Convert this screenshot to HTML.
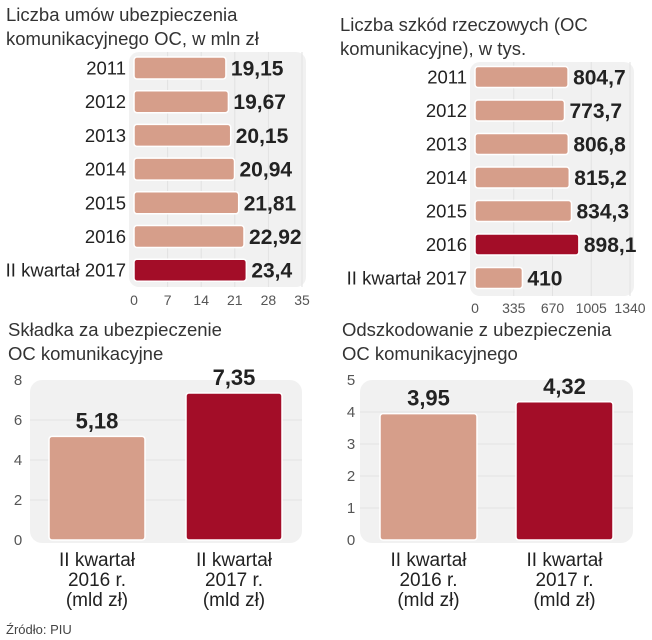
<!DOCTYPE html>
<html><head><meta charset="utf-8"><style>
html,body{margin:0;padding:0;background:#fff;}
svg{display:block;font-family:"Liberation Sans",sans-serif;}
.t{font-size:18.5px;fill:#333;}
.cat{font-size:18.5px;fill:#222;}
.tick{font-size:14px;fill:#555;}
.val{font-family:"Liberation Sans Narrow","Liberation Sans",sans-serif;font-weight:bold;font-size:21px;fill:#222;}
</style></head><body>
<svg id="s" width="652" height="640" viewBox="0 0 652 640">
<text class="t" x="6" y="21">Liczba umów ubezpieczenia</text>
<text class="t" x="6" y="45">komunikacyjnego OC, w mln zł</text>
<text class="t" x="340" y="31">Liczba szkód rzeczowych (OC</text>
<text class="t" x="340" y="55">komunikacyjne), w tys.</text>
<text class="t" x="8" y="336">Składka za ubezpieczenie</text>
<text class="t" x="8" y="360">OC komunikacyjne</text>
<text class="t" x="342" y="336">Odszkodowanie z ubezpieczenia</text>
<text class="t" x="342" y="360">OC komunikacyjnego</text>
<text x="6" y="634" style="font-size:13px;fill:#444">Źródło: PIU</text>
</svg>
<script>
const c1Cats=["2011","2012","2013","2014","2015","2016","II kwartał 2017"];
const c1Vals=[19.15,19.67,20.15,20.94,21.81,22.92,23.4];
const c1Labels=["19,15","19,67","20,15","20,94","21,81","22,92","23,4"];
const c1Ticks=[0,7,14,21,28,35];
const c2Cats=["2011","2012","2013","2014","2015","2016","II kwartał 2017"];
const c2Vals=[804.7,773.7,806.8,815.2,834.3,898.1,410];
const c2Labels=["804,7","773,7","806,8","815,2","834,3","898,1","410"];
const c2Ticks=[0,335,670,1005,1340];
const c3Cats=[["II kwartał","2016 r.","(mld zł)"],["II kwartał","2017 r.","(mld zł)"]];
const c3Vals=[5.18,7.35];
const c3Labels=["5,18","7,35"];
const c3Ticks=[0,2,4,6,8];
const c4Cats=[["II kwartał","2016 r.","(mld zł)"],["II kwartał","2017 r.","(mld zł)"]];
const c4Vals=[3.95,4.32];
const c4Labels=["3,95","4,32"];
const c4Ticks=[0,1,2,3,4,5];
const LIGHT="#d69e8a",DARK="#a30d28";
const svg=document.getElementById('s');
const NS="http://www.w3.org/2000/svg";
function mk(tag,attrs,txt){const e=document.createElementNS(NS,tag);for(const k in attrs)e.setAttribute(k,attrs[k]);if(txt!==undefined)e.textContent=txt;svg.appendChild(e);return e;}

function hbar(cats,vals,labels,ticks,o){
  const x=v=>o.x0+(v-ticks[0])/(ticks[ticks.length-1]-ticks[0])*(o.x1-o.x0);
  const y=i=>o.y0+i*o.step;
  let p=mk('rect',{x:o.x0-5,y:o.py0,width:o.x1-o.x0+9,height:o.py1-o.py0,rx:10,fill:"#f1f1f1"});
  
  ticks.forEach((t,i)=>{
    if(i>0){let g=mk('line',{x1:x(t),x2:x(t),y1:o.py0,y2:o.py1,stroke:"#e2e2e2","stroke-width":1});
    }
    let tl=mk('text',{x:x(t),y:o.ty,"text-anchor":"middle",class:"tick"},String(t));
    
  });
  cats.forEach((c,i)=>{
    const cy=y(i);
    let cl=mk('text',{x:o.x0-8,y:cy+6.5,"text-anchor":"end",class:"cat"},c);
    
    let b=mk('rect',{x:x(0),y:cy-o.bh/2,width:x(vals[i])-x(0),height:o.bh,rx:3,fill:o.dark[i]?DARK:LIGHT,stroke:"#fff","stroke-width":1.5});
    
    let v=mk('text',{x:x(vals[i])+5,y:cy+7.5,class:"val"},labels[i]);
    
  });
}
function vbar(cats,vals,labels,ticks,o){
  const y=v=>o.y0-(v-ticks[0])/(ticks[ticks.length-1]-ticks[0])*(o.y0-o.y1);
  let p=mk('rect',{x:o.px0,y:y(ticks[ticks.length-1]),width:o.px1-o.px0,height:o.y0-y(ticks[ticks.length-1])+3,rx:12,fill:"#f1f1f1"});
  
  ticks.forEach((t,i)=>{
    if(i>0&&i<ticks.length-1){let g=mk('line',{x1:o.px0,x2:o.px1,y1:y(t),y2:y(t),stroke:"#e2e2e2","stroke-width":1});
    }
    let tl=mk('text',{x:o.lx,y:y(t)+5,"text-anchor":"middle",class:"tick",style:"font-size:15px"},String(t));
    
  });
  cats.forEach((c,i)=>{
    const bx=o.bx[i];
    let b=mk('rect',{x:bx,y:y(vals[i]),width:o.bw,height:y(0)-y(vals[i]),rx:3,fill:i==1?DARK:LIGHT,stroke:"#fff","stroke-width":1.5});
    
    let v=mk('text',{x:bx+o.bw/2,y:y(vals[i])-8,"text-anchor":"middle",class:"val",style:"font-size:22px"},labels[i]);
    
    c.forEach((line,j)=>{
      let cl=mk('text',{x:bx+o.bw/2,y:o.y0+26+j*20,"text-anchor":"middle",class:"cat",style:"font-size:19px"},line);
      
    });
  });
}
hbar(c1Cats,c1Vals,c1Labels,c1Ticks,{id:'chart1',x0:134,x1:302,y0:68,step:33.7,bh:22,py0:52,py1:287,ty:305,dark:[0,0,0,0,0,0,1]});
hbar(c2Cats,c2Vals,c2Labels,c2Ticks,{id:'chart2',x0:475,x1:630,y0:77,step:33.5,bh:21,py0:62,py1:296,ty:313,dark:[0,0,0,0,0,1,0]});
vbar(c3Cats,c3Vals,c3Labels,c3Ticks,{id:'chart3',y0:540,y1:380,px0:30,px1:302,lx:18,bx:[49,186],bw:96});
vbar(c4Cats,c4Vals,c4Labels,c4Ticks,{id:'chart4',y0:540,y1:380,px0:360,px1:633,lx:351,bx:[380,516],bw:97});
</script>
</body></html>
